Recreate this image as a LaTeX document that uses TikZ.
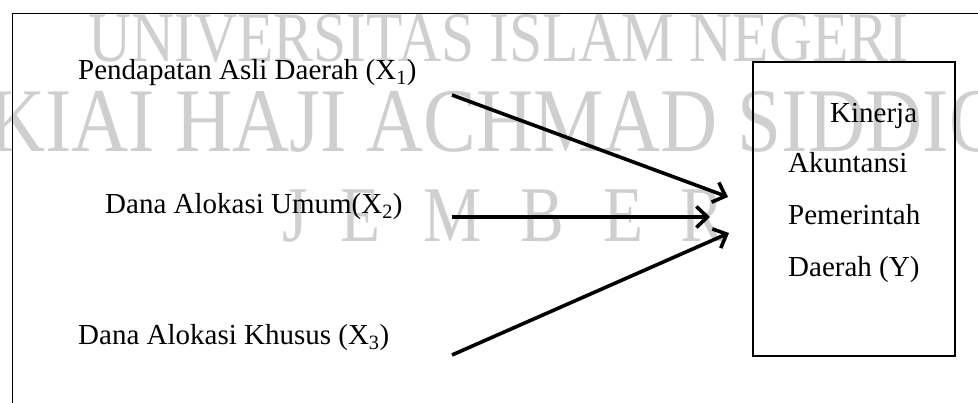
\documentclass[tikz,border=0pt]{standalone}
\usepackage{fontspec}
\usepackage{graphicx}
\setmainfont{Liberation Serif}
\usetikzlibrary{arrows.meta,positioning}
\definecolor{Ink}{HTML}{000000}
\definecolor{WaterGray}{HTML}{CFCFCF}

\begin{document}
\begin{tikzpicture}[x=1pt,y=-1pt,>={Straight Barb[length=11pt,width=21pt]},
    every node/.style={font=\fontsize{29}{34}\selectfont,inner sep=0pt},
    marktext/.style={anchor=base west,text=WaterGray},
    varlabel/.style={anchor=base west,text=Ink},
    link/.style={->,Ink,line width=3.6pt}]
    \useasboundingbox (0,0) rectangle (978,403);

    % watermark
    \node[marktext,font=\fontsize{71}{71}\selectfont] (wmtop) at (88,62)
      {\scalebox{0.84}[1]{UNIVERSITAS ISLAM NEGERI}};
    \node[marktext,font=\fontsize{91}{91}\selectfont] (wmmid) at (-12,152)
      {\scalebox{0.87}[1]{KIAI HAJI ACHMAD SIDDIQ}};
    \foreach \xl/\lt [count=\i] in {282/J,340/E,423/M,520/B,603/E,680/R} {
      \node[marktext,font=\fontsize{79}{79}\selectfont] (wmlow\i) at (\xl,242)
        {\scalebox{0.83}[1]{\lt}};
    }

    \draw[Ink,line width=1pt] (978,14) -- (12,14) -- (12,403);

    \node[varlabel] (pad) at (78,80) {Pendapatan Asli Daerah (X\textsubscript{1})};
    \node[varlabel] (dau) at (105,214) {Dana Alokasi Umum(X\textsubscript{2})};
    \node[varlabel] (dak) at (78,345) {Dana Alokasi Khusus (X\textsubscript{3})};

    \node[draw=Ink,line width=2pt,minimum width=202pt,minimum height=294pt] (kinerja) at (854,209) {};
    \node[varlabel] (kin1) at (830,123) {Kinerja};
    \node[varlabel] (kin2) at (788,173) {Akuntansi};
    \node[varlabel] (kin3) at (788,225) {Pemerintah};
    \node[varlabel] (kin4) at (788,277) {Daerah (Y)};

    \coordinate (s1) at (452,95);
    \coordinate (e1) at (728,197);
    \coordinate (s2) at (452,217);
    \coordinate (e2) at (710,217);
    \coordinate (s3) at (452,355);
    \coordinate (e3) at (729,233);
    \draw[link] (s1) -- (e1);
    \draw[link] (s2) -- (e2);
    \draw[link] (s3) -- (e3);
\end{tikzpicture}
\end{document}
